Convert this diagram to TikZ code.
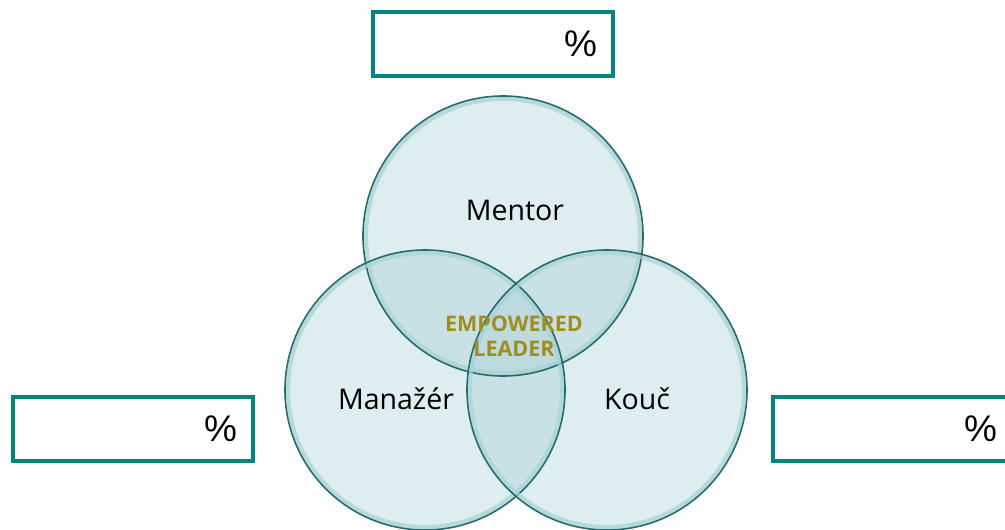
\documentclass[tikz,border=0pt]{standalone}
\usepackage{fontspec}
\setmainfont{Open Sans}
\newfontfamily\pctfont{Liberation Sans}
\usetikzlibrary{positioning}

\definecolor{boxteal}{HTML}{00857E}
\definecolor{ringdark}{HTML}{266A6C}
\definecolor{ringlight}{HTML}{A6D3D4}
\definecolor{vennfill}{HTML}{A8CFD4}
\definecolor{leadgold}{HTML}{A08D1F}

\tikzset{
  venn/.style={circle, minimum size=280pt, inner sep=0pt, fill=vennfill, fill opacity=0.38},
  vennring/.style={circle, minimum size=274pt, inner sep=0pt, draw=ringlight, line width=4pt, draw opacity=0.7},
  vennedge/.style={circle, minimum size=280pt, inner sep=0pt, draw=ringdark, line width=1.6pt},
  pctbox/.style={draw=boxteal, line width=4pt, fill=white, minimum width=240pt, minimum height=64pt,
    text width=208pt, inner xsep=16pt, align=right, font=\pctfont\fontsize{37}{42}\selectfont},
  role/.style={anchor=base, font=\fontsize{28.5}{34}\selectfont},
  lead/.style={font=\bfseries\fontsize{21.5}{25}\selectfont, text=leadgold, align=center}
}

\begin{document}
\begin{tikzpicture}[x=1pt, y=-1pt]
    \useasboundingbox (0,0) rectangle (1005,530);

    % Circles
    \node[venn] (mentor) at (503,236) {};
    \node[venn] (manazer) at (425,390) {};
    \node[venn] (kouc) at (607,390) {};
    \foreach \c in {mentor, manazer, kouc} {
        \node[vennring] at (\c) {};
        \node[vennedge] at (\c) {};
    }

    % Labels
    \node[role] (mentortxt) at (515,220) {Mentor};
    \node[role] (manazertxt) at (396,409) {Manažér};
    \node[role] (kouctxt) at (637,409) {Kouč};
    \node[lead] (leader) at (514,336) {EMPOWERED\\LEADER};

    % Percent boxes
    \node[pctbox] (pcttop) at (493,43.5) {\%};
    \node[pctbox] (pctleft) at (133,428.5) {\%};
    \node[pctbox] (pctright) at (893,428.5) {\%};

\end{tikzpicture}
\end{document}
